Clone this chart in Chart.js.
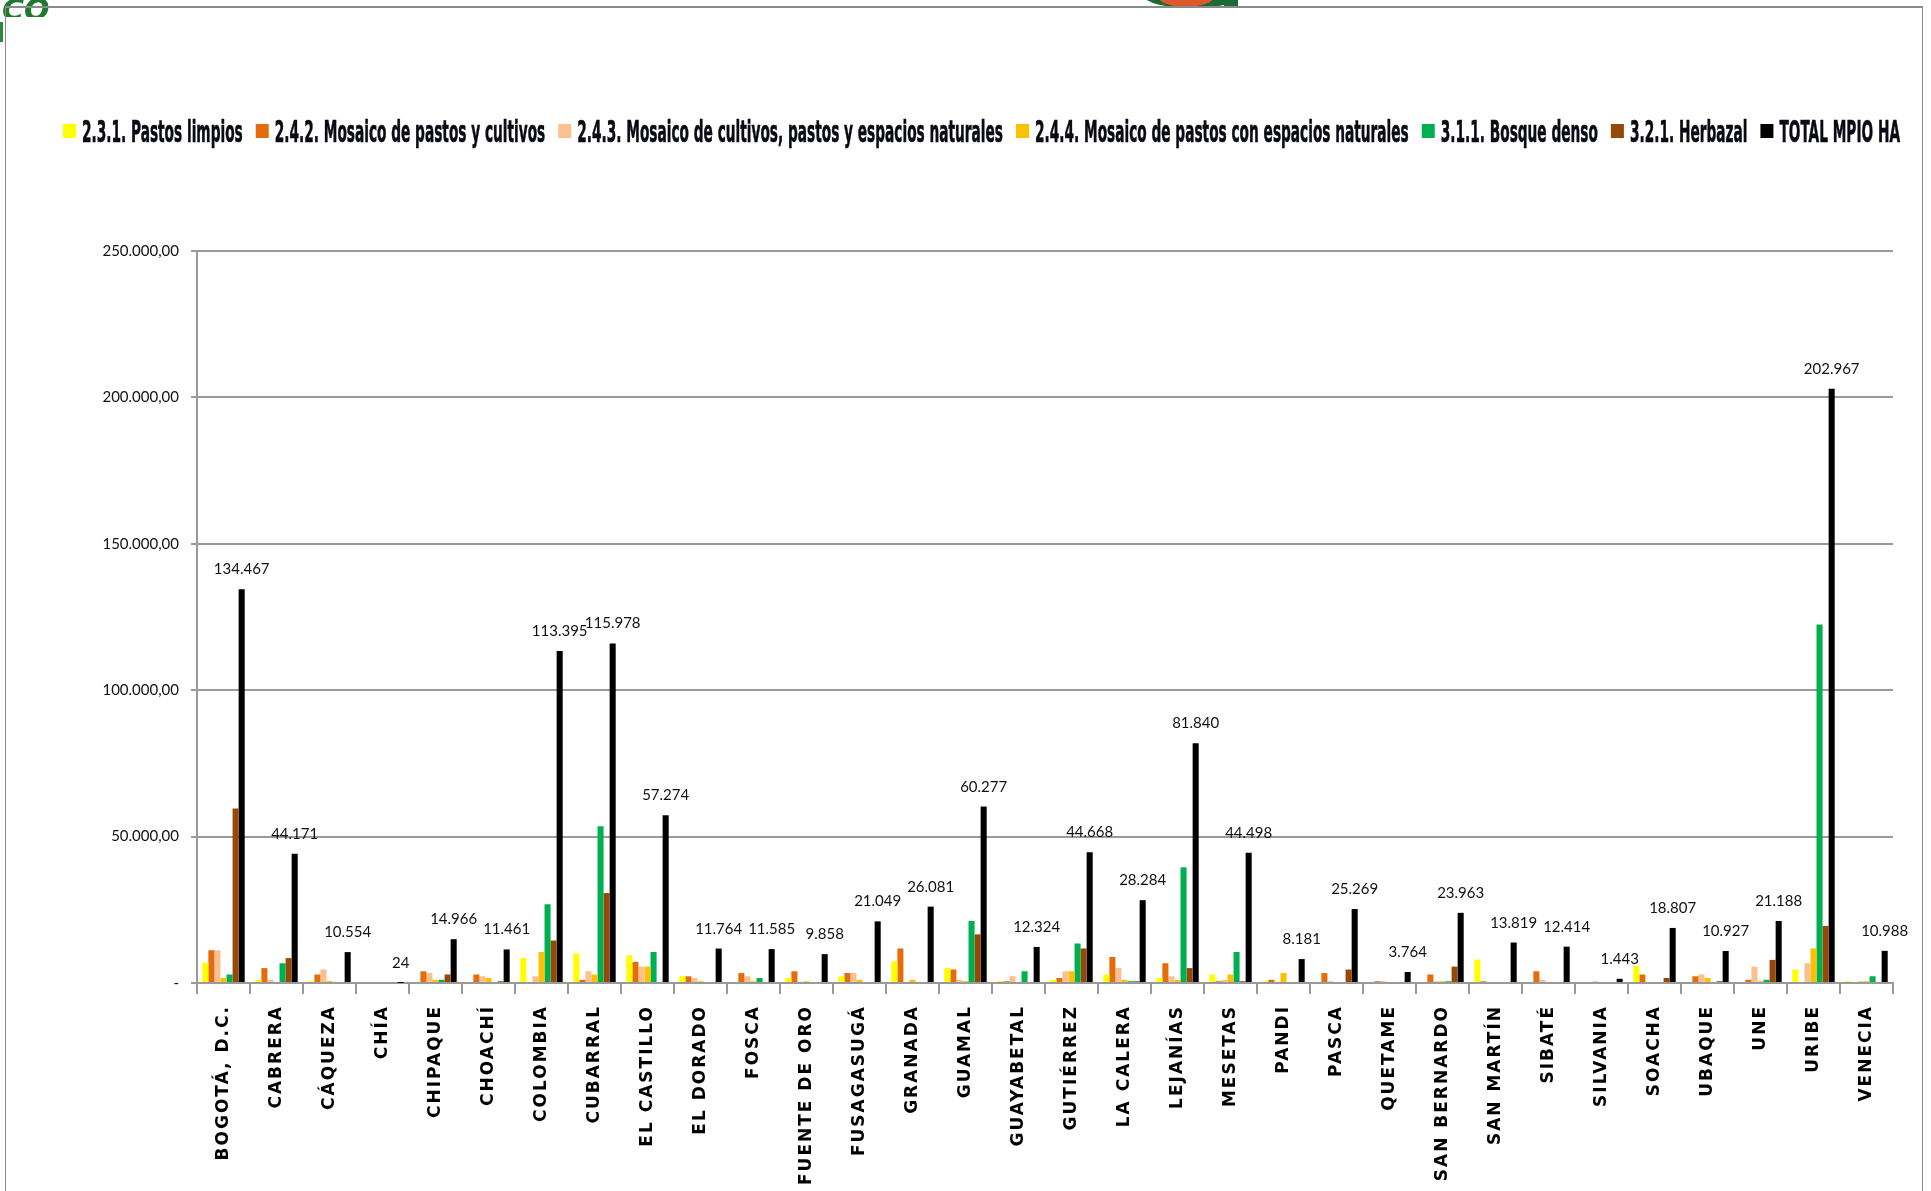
<!DOCTYPE html>
<html>
<head>
<meta charset="utf-8">
<script src="https://cdn.jsdelivr.net/npm/chart.js@4.4.1/dist/chart.umd.min.js"></script>
<style>
  html, body { margin: 0; padding: 0; background: #ffffff; overflow: hidden; }
  #wrap { position: relative; width: 1931px; height: 1191px; }
  canvas { display: block; }
</style>
</head>
<body>
<div id="wrap"><canvas id="chart" width="1931" height="1191"></canvas></div>
<script>
// Cobertura de la tierra por municipio (hectáreas)
const municipios = [
  'BOGOTÁ, D.C.', 'CABRERA', 'CÁQUEZA', 'CHÍA', 'CHIPAQUE', 'CHOACHÍ', 'COLOMBIA', 'CUBARRAL',
  'EL CASTILLO', 'EL DORADO', 'FOSCA', 'FUENTE DE ORO', 'FUSAGASUGÁ', 'GRANADA', 'GUAMAL', 'GUAYABETAL',
  'GUTIÉRREZ', 'LA CALERA', 'LEJANÍAS', 'MESETAS', 'PANDI', 'PASCA', 'QUETAME', 'SAN BERNARDO',
  'SAN MARTÍN', 'SIBATÉ', 'SILVANIA', 'SOACHA', 'UBAQUE', 'UNE', 'URIBE', 'VENECIA'
];

const pastosLimpios = [
  6900, 1100, 600, 0, 0, 0, 8500, 10100,
  9500, 2300, 0, 1700, 2300, 7400, 5100, 600,
  1100, 2900, 1700, 2900, 600, 0, 0, 0,
  8000, 0, 0, 5800, 0, 0, 4600, 600
];

const mosaicoPastosCultivos = [
  11200, 5100, 2900, 0, 4000, 2900, 0, 1100,
  7200, 2300, 3400, 4000, 3400, 11800, 4600, 600,
  1700, 8900, 6750, 600, 1100, 3400, 600, 2900,
  600, 4000, 0, 2900, 2300, 1100, 0, 0
];

const mosaicoCultivosPastosEspacios = [
  11200, 1100, 4600, 0, 3400, 2300, 2300, 4000,
  5600, 1700, 2300, 0, 3400, 0, 1100, 2300,
  4000, 5100, 2300, 1100, 0, 600, 600, 600,
  0, 1100, 600, 0, 2900, 5600, 6750, 600
];

const mosaicoPastosEspacios = [
  1700, 0, 700, 0, 1100, 1700, 10600, 2900,
  5600, 600, 600, 600, 1100, 1100, 600, 0,
  4000, 1100, 1100, 2900, 3400, 0, 0, 600,
  0, 0, 0, 0, 1700, 600, 11800, 600
];

const bosqueDenso = [
  2900, 6750, 0, 0, 1100, 0, 26900, 53500,
  10600, 0, 1700, 0, 0, 0, 21200, 4000,
  13500, 600, 39500, 10600, 0, 0, 0, 600,
  0, 0, 0, 0, 0, 1100, 122400, 2300
];

const herbazal = [
  59600, 8500, 0, 0, 2900, 600, 14500, 30700,
  0, 0, 0, 0, 0, 0, 16600, 0,
  11800, 600, 5100, 600, 0, 4600, 0, 5600,
  0, 0, 0, 1700, 600, 7900, 19500, 0
];

const totalMpioHa = [
  134467, 44171, 10554, 24, 14966, 11461, 113395, 115978,
  57274, 11764, 11585, 9858, 21049, 26081, 60277, 12324,
  44668, 28284, 81840, 44498, 8181, 25269, 3764, 23963,
  13819, 12414, 1443, 18807, 10927, 21188, 202967, 10988
];

const seriesLabels = [
  '2.3.1. Pastos limpios',
  '2.4.2. Mosaico de pastos y cultivos',
  '2.4.3. Mosaico de cultivos, pastos y espacios naturales',
  '2.4.4. Mosaico de pastos con espacios naturales',
  '3.1.1. Bosque denso',
  '3.2.1. Herbazal',
  'TOTAL MPIO HA'
];

const yTicks = { min: 0, max: 250000, step: 50000 };

// ---------- presentation ----------
const seriesColors = ['#FFFF00', '#E46C0A', '#FAC090', '#FFC000', '#00B050', '#974706', '#000000'];
const GRID_COLOR = '#9a9a9a';
const NUM_FONT = "Lato, 'Liberation Sans', sans-serif";
const CAT_FONT = "'DejaVu Sans', sans-serif";
const CAT_LETTER_SPACING = '2px';
const LEGEND_FONT = "'Liberation Sans Narrow', 'DejaVu Sans Condensed', 'Liberation Sans', sans-serif";

function thousands(n) {
  const s = String(Math.round(Math.abs(n)));
  return (n < 0 ? '-' : '') + s.replace(/\B(?=(\d{3})+(?!\d))/g, '.');
}

// Category axis whose tick labels are drawn with extra letter spacing
class SpacedCategoryScale extends Chart.CategoryScale {
  drawLabels(chartArea) {
    const ctx = this.ctx;
    ctx.save();
    ctx.letterSpacing = CAT_LETTER_SPACING;
    super.drawLabels(chartArea);
    ctx.restore();
  }
}
SpacedCategoryScale.id = 'spacedCategory';
SpacedCategoryScale.defaults = Chart.CategoryScale.defaults;
Chart.register(SpacedCategoryScale);

// White page, outer frame and the header fragments above it
const pagePlugin = {
  id: 'page',
  beforeDraw(chart) {
    const ctx = chart.ctx;
    ctx.save();
    ctx.fillStyle = '#ffffff';
    ctx.fillRect(0, 0, chart.width, chart.height);

    // header emblems (cut by the frame)
    ctx.beginPath();
    ctx.rect(0, 0, chart.width, 7);
    ctx.rect(0, 0, 70, 17);
    ctx.rect(0, 0, 5, 45);
    ctx.clip();
    ctx.fillStyle = '#1f7a2e';
    ctx.font = "italic bold 30px 'DejaVu Sans', sans-serif";
    ctx.textBaseline = 'alphabetic';
    ctx.fillText('CO', 2, 20);
    ctx.fillStyle = '#2c8a3c';
    ctx.fillRect(0, 22, 3, 20);
    ctx.fillStyle = '#1d6b34';
    ctx.beginPath();
    ctx.ellipse(1192, -4, 48, 12, 0, 0, Math.PI * 2);
    ctx.fill();
    ctx.fillStyle = '#e0572b';
    ctx.beginPath();
    ctx.ellipse(1186, -4, 28, 11, 0, 0, Math.PI * 2);
    ctx.fill();
    ctx.fillStyle = '#1d6b34';
    ctx.fillRect(1224, 0, 14, 6);
    ctx.restore();

    ctx.save();
    ctx.strokeStyle = '#8a8a8a';
    ctx.lineWidth = 1;
    ctx.strokeRect(5.5, 7.5, 1917, 1300);
    ctx.fillStyle = '#8a8a8a';
    ctx.fillRect(5, 6, 1918, 2);
    ctx.restore();
  }
};

// Values printed over the total bars
const totalLabelsPlugin = {
  id: 'totalLabels',
  afterDatasetsDraw(chart) {
    const idx = chart.data.datasets.length - 1;
    const meta = chart.getDatasetMeta(idx);
    const ctx = chart.ctx;
    ctx.save();
    ctx.font = `15px ${NUM_FONT}`;
    ctx.fillStyle = '#111111';
    ctx.textAlign = 'center';
    ctx.textBaseline = 'alphabetic';
    meta.data.forEach((bar, i) => {
      ctx.fillText(thousands(chart.data.datasets[idx].data[i]), bar.x, bar.y - 15);
    });
    ctx.restore();
  }
};

// Single-row legend strip across the top
const legendStripPlugin = {
  id: 'legendStrip',
  afterDraw(chart) {
    const ctx = chart.ctx;
    const sets = chart.data.datasets;
    const left = 63, right = 1900, boxTop = 124, box = 13, boxGap = 6, itemGap = 13, baseline = 142;
    ctx.save();
    ctx.font = `bold 31px ${LEGEND_FONT}`;
    const widths = sets.map(d => ctx.measureText(d.label).width);
    const avail = right - left - sets.length * (box + boxGap) - (sets.length - 1) * itemGap;
    const sx = avail / widths.reduce((a, b) => a + b, 0);
    let x = left;
    sets.forEach((d, i) => {
      ctx.fillStyle = d.backgroundColor;
      ctx.fillRect(x, boxTop, box, box + 1);
      x += box + boxGap;
      ctx.save();
      ctx.translate(x, baseline);
      ctx.scale(sx, 1);
      ctx.fillStyle = '#0a0a14';
      ctx.strokeStyle = '#0a0a14';
      ctx.lineWidth = 0.6;
      ctx.textAlign = 'left';
      ctx.textBaseline = 'alphabetic';
      ctx.fillText(d.label, 0, 0);
      ctx.strokeText(d.label, 0, 0);
      ctx.restore();
      x += widths[i] * sx + itemGap;
    });
    ctx.restore();
  }
};

const seriesData = [pastosLimpios, mosaicoPastosCultivos, mosaicoCultivosPastosEspacios,
  mosaicoPastosEspacios, bosqueDenso, herbazal, totalMpioHa];

const datasets = seriesData.map((values, i) => ({
  label: seriesLabels[i],
  data: values,
  backgroundColor: seriesColors[i],
  borderWidth: 0,
  categoryPercentage: 0.8,
  barPercentage: 1.0
}));

new Chart(document.getElementById('chart'), {
  type: 'bar',
  data: { labels: municipios, datasets },
  plugins: [pagePlugin, totalLabelsPlugin, legendStripPlugin],
  options: {
    responsive: false,
    animation: false,
    devicePixelRatio: 1,
    layout: { padding: { top: 251, right: 38, bottom: 0, left: 0 } },
    plugins: {
      legend: { display: false },
      tooltip: { enabled: false },
      title: { display: false }
    },
    scales: {
      x: {
        type: 'spacedCategory',
        offset: true,
        afterFit(scale) { scale.height = 208; },
        grid: {
          display: true,
          offset: true,
          drawOnChartArea: false,
          drawTicks: true,
          tickLength: 11,
          color: GRID_COLOR,
          lineWidth: 2
        },
        border: { display: true, color: GRID_COLOR, width: 2 },
        ticks: {
          autoSkip: false,
          maxRotation: 90,
          minRotation: 90,
          padding: 11,
          color: '#000000',
          font: { family: CAT_FONT, size: 17, weight: 'bold' }
        }
      },
      y: {
        min: yTicks.min,
        max: yTicks.max,
        afterFit(scale) { scale.width = 197; },
        grid: {
          color: GRID_COLOR,
          lineWidth: 2,
          tickLength: 6,
          drawTicks: true
        },
        border: { display: true, color: GRID_COLOR, width: 2 },
        ticks: {
          stepSize: yTicks.step,
          padding: 12,
          color: '#111111',
          font: { family: NUM_FONT, size: 15 },
          callback: (v) => v === 0 ? '-' : thousands(v) + ',00'
        }
      }
    }
  }
});
</script>
</body>
</html>
